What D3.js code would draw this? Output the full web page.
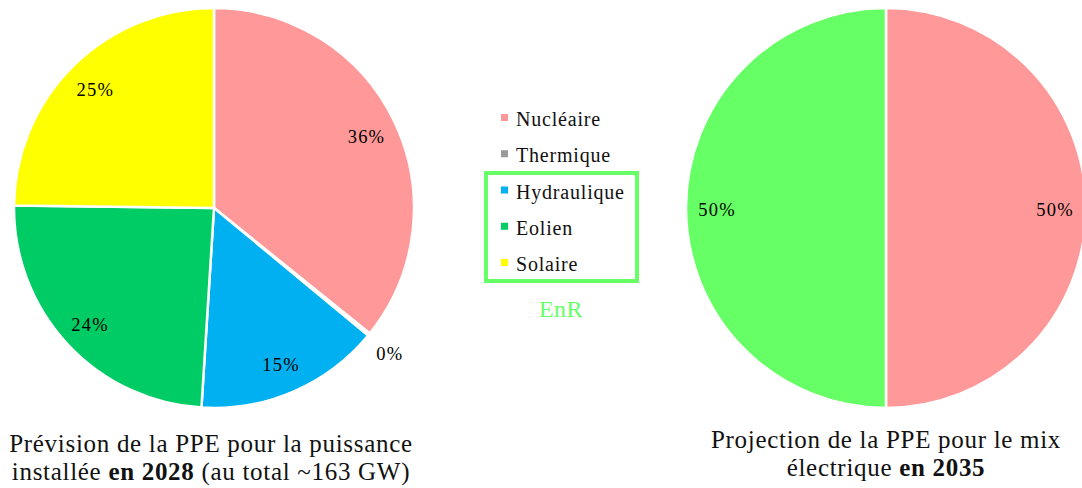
<!DOCTYPE html>
<html>
<head>
<meta charset="utf-8">
<script src="https://cdn.jsdelivr.net/npm/d3@7"></script>
<style>
  body { margin: 0; background: #fff; }
</style>
</head>
<body>
<div id="chart"></div>
<script>
// data
const categories2028 = ['Nucléaire', 'Thermique', 'Hydraulique', 'Eolien', 'Solaire'];
const values2028 = [35.8, 0.2, 15.0, 24.2, 24.8];
const categories2035 = ['Nucléaire', 'EnR'];
const values2035 = [50, 50];
const legendItems = ['Nucléaire', 'Thermique', 'Hydraulique', 'Eolien', 'Solaire'];
const colors = {
    'Nucléaire': '#ff9999',
    'Thermique': '#999999',
    'Hydraulique': '#00b0f0',
    'Eolien': '#00cc66',
    'Solaire': '#ffff00',
    'EnR': '#66ff66'
};

const width = 1082;
const height = 488;
const R = 200;
const FONT = "'Liberation Serif', 'Times New Roman', serif";

const svg = d3.select('#chart')
    .append('svg')
    .attr('width', width)
    .attr('height', height)
    .style('font-family', FONT);

const pie = d3.pie().sort(null).value(d => d.value);
const arc = d3.arc().innerRadius(0).outerRadius(R);

function drawPie(cx, cy, cats, vals, outsideSmall) {
    const data = cats.map((c, i) => ({ name: c, value: vals[i] }));
    const g = svg.append('g').attr('transform', `translate(${cx},${cy})`);
    const arcs = pie(data);

    g.selectAll('path')
        .data(arcs)
        .join('path')
        .attr('d', arc)
        .attr('fill', d => colors[d.data.name])
        .attr('stroke', '#fff')
        .attr('stroke-width', 2.5);

    const total = d3.sum(vals);
    g.selectAll('text')
        .data(arcs)
        .join('text')
        .attr('transform', d => {
            const a = (d.startAngle + d.endAngle) / 2;
            const small = d.value / total < 0.02 && outsideSmall;
            const r = small ? R * 1.135 : R * 0.845;
            return `translate(${r * Math.sin(a)},${-r * Math.cos(a) + 2})`;
        })
        .attr('text-anchor', 'middle')
        .attr('dominant-baseline', 'central')
        .style('font-size', '18.5px')
        .style('letter-spacing', '1.2px')
        .attr('fill', '#000')
        .text(d => Math.round(d.value / total * 100) + '%');
}

drawPie(214, 208, categories2028, values2028, true);
drawPie(886, 208, categories2035, values2035, false);

// legend
const legendY = d3.scalePoint()
    .domain(legendItems)
    .range([118, 263]);

const legend = svg.append('g');
legend.selectAll('rect')
    .data(legendItems)
    .join('rect')
    .attr('x', 501)
    .attr('y', d => legendY(d) - 4)
    .attr('width', 7)
    .attr('height', 7)
    .attr('fill', d => colors[d]);

legend.selectAll('text')
    .data(legendItems)
    .join('text')
    .attr('x', 516)
    .attr('y', d => legendY(d) + 1)
    .attr('dominant-baseline', 'central')
    .style('font-size', '20px')
    .style('letter-spacing', '0.8px')
    .attr('fill', '#111')
    .text(d => d);

// EnR box
svg.append('rect')
    .attr('x', 486)
    .attr('y', 173)
    .attr('width', 151)
    .attr('height', 108)
    .attr('fill', 'none')
    .attr('stroke', '#66ff66')
    .attr('stroke-width', 4);

svg.append('text')
    .attr('x', 561)
    .attr('y', 309)
    .attr('text-anchor', 'middle')
    .attr('dominant-baseline', 'central')
    .style('font-size', '24px')
    .style('letter-spacing', '0.5px')
    .attr('fill', '#66ff66')
    .text('EnR');

// titles
function title(x, y0, lines) {
    const t = svg.append('text')
        .attr('text-anchor', 'middle')
        .style('font-size', '25px')
        .style('letter-spacing', '0.7px')
        .attr('fill', '#111');
    lines.forEach((parts, i) => {
        const line = t.append('tspan')
            .attr('x', x)
            .attr('y', y0 + i * 28);
        parts.forEach(p => {
            line.append('tspan')
                .style('font-weight', p.bold ? 'bold' : 'normal')
                .text(p.text);
        });
    });
}

title(211, 452, [
    [{ text: 'Prévision de la PPE pour la puissance' }],
    [{ text: 'installée ' }, { text: 'en 2028', bold: true }, { text: ' (au total ~163 GW)' }]
]);

title(886, 448, [
    [{ text: 'Projection de la PPE pour le mix' }],
    [{ text: 'électrique ' }, { text: 'en 2035', bold: true }]
]);
</script>
</body>
</html>
